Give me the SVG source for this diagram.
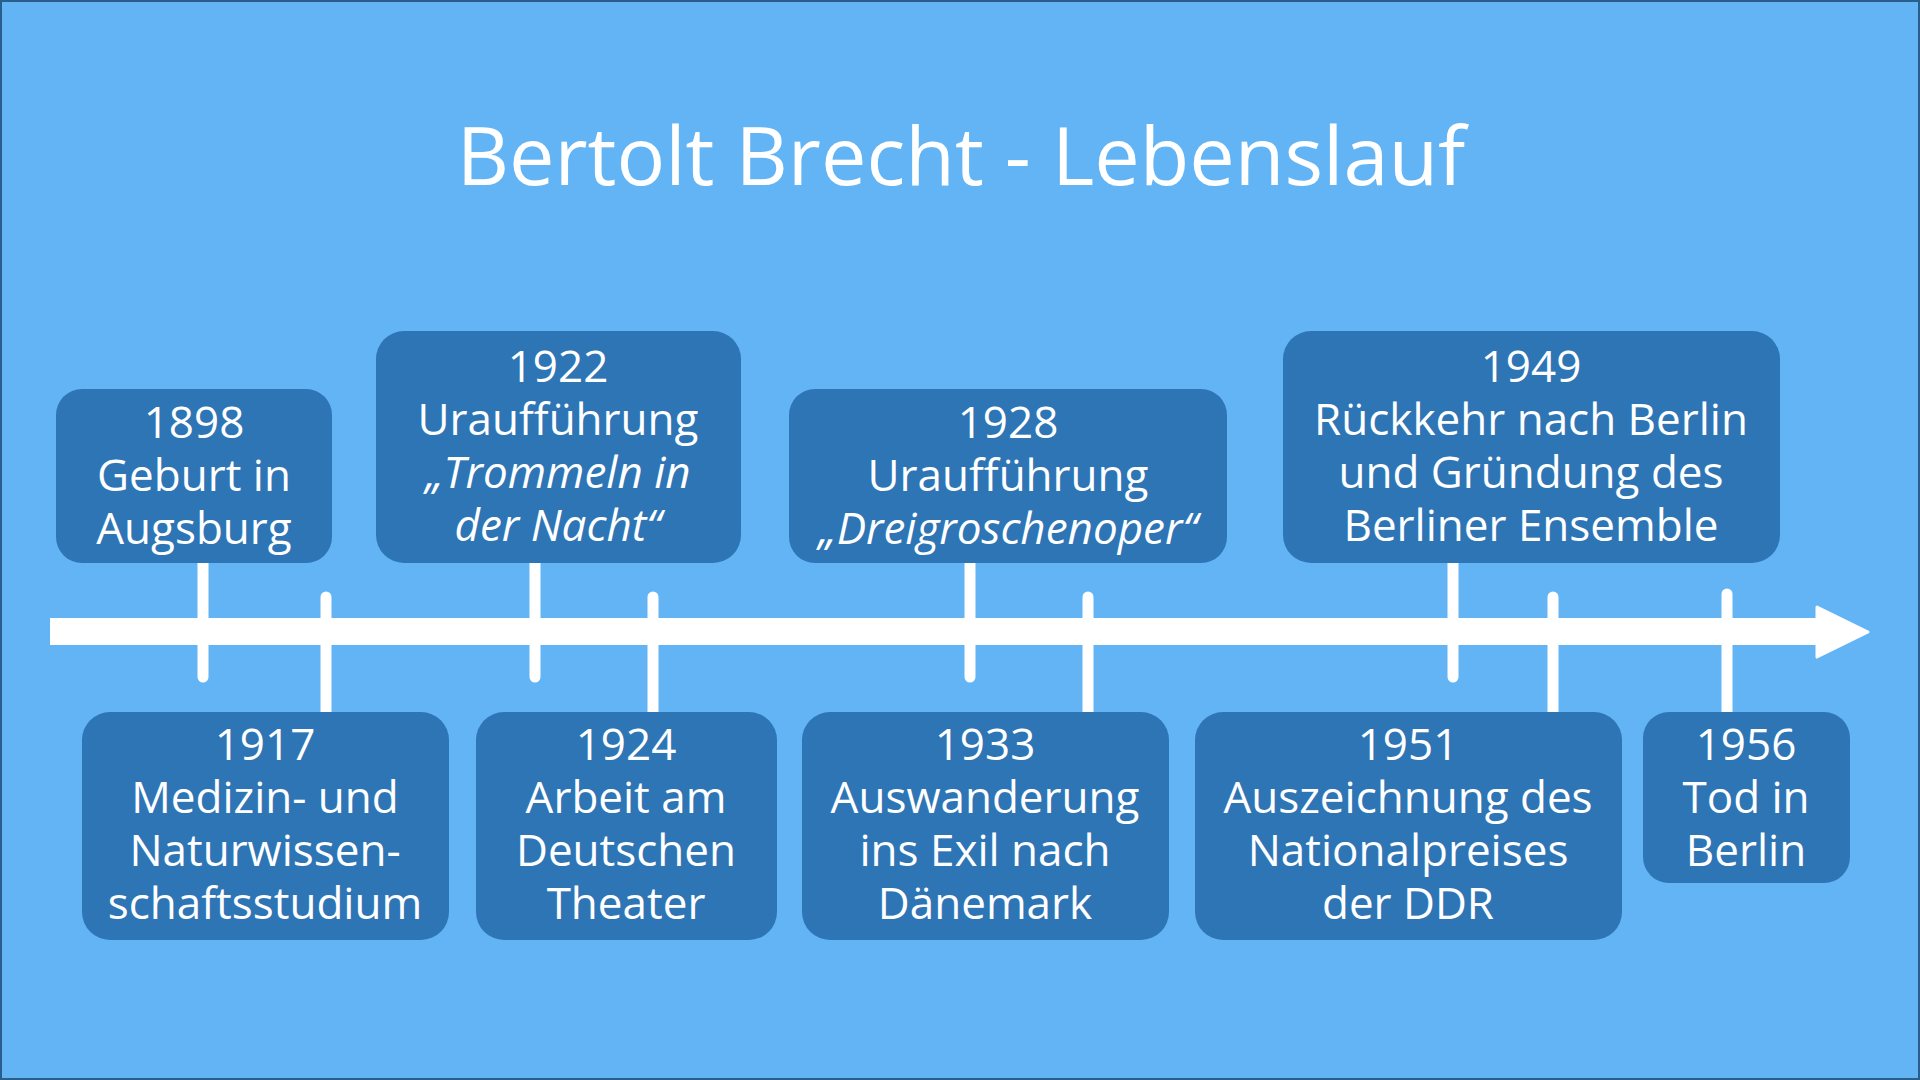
<svg xmlns="http://www.w3.org/2000/svg" width="1920" height="1080" viewBox="0 0 1920 1080">
<style>
.bg{fill:#63b4f5}
.box{fill:#2e75b6}
.t{font-family:"Open Sans","Noto Sans","DejaVu Sans",sans-serif;font-size:44px;fill:#ffffff;text-anchor:middle}
.i{font-style:italic}
.title{font-family:"Open Sans","Noto Sans","DejaVu Sans",sans-serif;font-size:81px;fill:#ffffff;text-anchor:middle}
.tick{stroke:#ffffff;stroke-width:11;stroke-linecap:round;fill:none}
</style>
<rect class="bg" x="0" y="0" width="1920" height="1080"/>
<rect x="1" y="1" width="1918" height="1078" fill="none" stroke="#2a5f8c" stroke-width="2"/>
<text id="title" class="title" x="961" y="185">Bertolt Brecht - Lebenslauf</text>

<g id="connectors">
  <line class="tick" x1="203" y1="560" x2="203" y2="677"/>
  <line class="tick" x1="535" y1="560" x2="535" y2="677"/>
  <line class="tick" x1="970" y1="560" x2="970" y2="677"/>
  <line class="tick" x1="1453" y1="560" x2="1453" y2="677"/>
  <line class="tick" x1="326" y1="597" x2="326" y2="716"/>
  <line class="tick" x1="653" y1="597" x2="653" y2="716"/>
  <line class="tick" x1="1088" y1="597" x2="1088" y2="716"/>
  <line class="tick" x1="1553" y1="597" x2="1553" y2="716"/>
  <line class="tick" x1="1727" y1="594" x2="1727" y2="716"/>
  <g id="timeline">
    <rect x="50" y="618" width="1772" height="27" fill="#ffffff"/>
    <polygon points="1817,607 1868,632 1817,657" fill="#ffffff" stroke="#ffffff" stroke-width="3" stroke-linejoin="round"/>
  </g>
</g>

<g id="n1898">
  <rect class="box" x="56" y="389" width="276" height="174" rx="26"/>
  <text class="t" x="194" y="438">1898</text>
  <text class="t" x="194" y="491">Geburt in</text>
  <text class="t" x="194" y="544">Augsburg</text>
</g>
<g id="n1922">
  <rect class="box" x="376" y="331" width="365" height="232" rx="28"/>
  <text class="t" x="558" y="382">1922</text>
  <text class="t" x="558" y="435">Uraufführung</text>
  <text class="t i" x="558" y="488">„Trommeln in</text>
  <text class="t i" x="558" y="541">der Nacht“</text>
</g>
<g id="n1928">
  <rect class="box" x="789" y="389" width="438" height="174" rx="26"/>
  <text class="t" x="1008" y="438">1928</text>
  <text class="t" x="1008" y="491">Uraufführung</text>
  <text class="t i" x="1008" y="544">„Dreigroschenoper“</text>
</g>
<g id="n1949">
  <rect class="box" x="1283" y="331" width="497" height="232" rx="28"/>
  <text class="t" x="1531" y="382">1949</text>
  <text class="t" x="1531" y="435">Rückkehr nach Berlin</text>
  <text class="t" x="1531" y="488">und Gründung des</text>
  <text class="t" x="1531" y="541">Berliner Ensemble</text>
</g>
<g id="n1917">
  <rect class="box" x="82" y="712" width="367" height="228" rx="28"/>
  <text class="t" x="265" y="760">1917</text>
  <text class="t" x="265" y="813">Medizin- und</text>
  <text class="t" x="265" y="866">Naturwissen-</text>
  <text class="t" x="265" y="919">schaftsstudium</text>
</g>
<g id="n1924">
  <rect class="box" x="476" y="712" width="301" height="228" rx="28"/>
  <text class="t" x="626" y="760">1924</text>
  <text class="t" x="626" y="813">Arbeit am</text>
  <text class="t" x="626" y="866">Deutschen</text>
  <text class="t" x="626" y="919">Theater</text>
</g>
<g id="n1933">
  <rect class="box" x="802" y="712" width="367" height="228" rx="28"/>
  <text class="t" x="985" y="760">1933</text>
  <text class="t" x="985" y="813">Auswanderung</text>
  <text class="t" x="985" y="866">ins Exil nach</text>
  <text class="t" x="985" y="919">Dänemark</text>
</g>
<g id="n1951">
  <rect class="box" x="1195" y="712" width="427" height="228" rx="28"/>
  <text class="t" x="1408" y="760">1951</text>
  <text class="t" x="1408" y="813">Auszeichnung des</text>
  <text class="t" x="1408" y="866">Nationalpreises</text>
  <text class="t" x="1408" y="919">der DDR</text>
</g>
<g id="n1956">
  <rect class="box" x="1643" y="712" width="207" height="171" rx="26"/>
  <text class="t" x="1746" y="760">1956</text>
  <text class="t" x="1746" y="813">Tod in</text>
  <text class="t" x="1746" y="866">Berlin</text>
</g>
</svg>
